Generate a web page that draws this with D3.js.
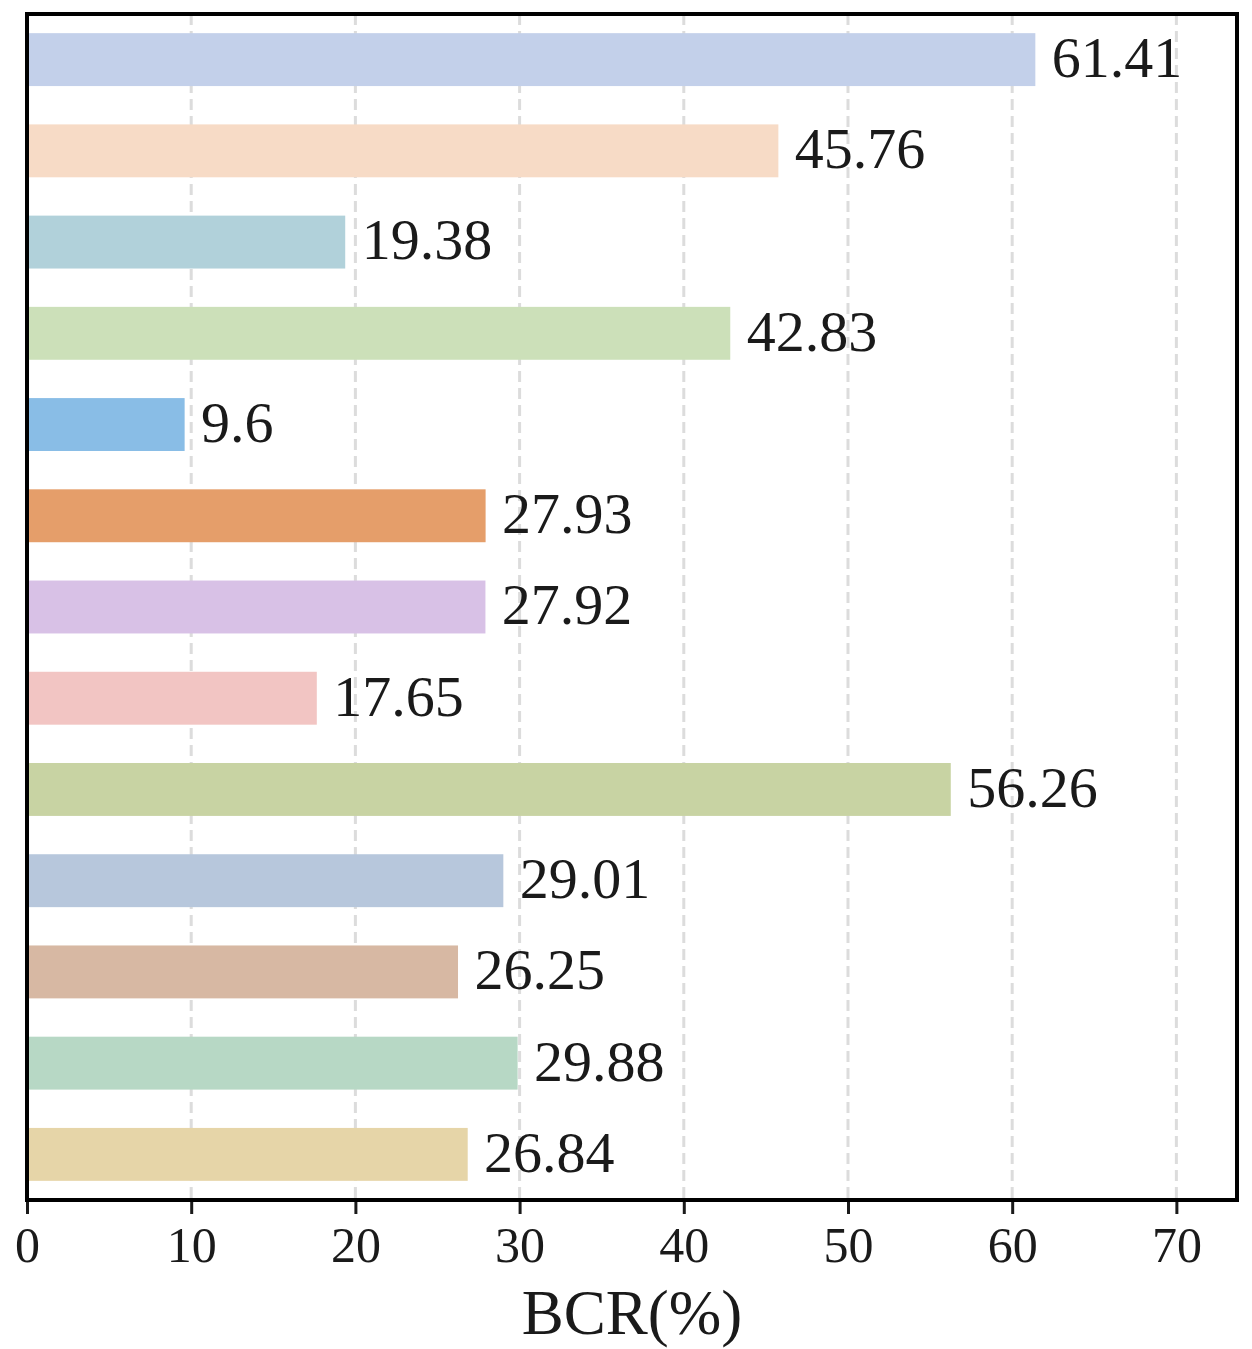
<!DOCTYPE html>
<html>
<head>
<meta charset="utf-8">
<script src="https://cdn.jsdelivr.net/npm/d3@7"></script>
<style>
  body { margin: 0; background: #fff; }
  svg text { font-family: 'Liberation Serif', 'Times New Roman', serif; fill: #1a1a1a; }
</style>
</head>
<body>
<svg id="bar"></svg>
<script>
const categories = ['A', 'B', 'C', 'D', 'E', 'F', 'G', 'H', 'I', 'J', 'K', 'L', 'M'];
const values = [61.41, 45.76, 19.38, 42.83, 9.6, 27.93, 27.92, 17.65, 56.26, 29.01, 26.25, 29.88, 26.84];
const colors = ['#c3d0ea', '#f7dbc6', '#b1d1da', '#cce0b9', '#89bde6', '#e59e6a', '#d8c1e6',
  '#f2c5c3', '#c8d3a3', '#b7c7dc', '#d7b8a3', '#b7d8c5', '#e6d5a8'];
const xTicks = [0, 10, 20, 30, 40, 50, 60, 70];
const xLabel = 'BCR(%)';

const width = 1252;
const height = 1349;
const padding = { top: 14, right: 15, bottom: 149, left: 27 };

const svg = d3.select('#bar').attr('width', width).attr('height', height);

const data = categories.map((c, i) => ({ cat: c, value: values[i], color: colors[i] }));

const xScale = d3
  .scaleLinear()
  .domain([0, d3.max(values) * 1.2])
  .range([padding.left, width - padding.right]);

const yScale = d3
  .scaleBand()
  .domain(categories)
  .range([padding.top, height - padding.bottom])
  .paddingInner(0.42)
  .paddingOuter(0.21);

// grid
svg
  .append('g')
  .selectAll('line')
  .data(xTicks.filter(t => t > 0))
  .enter()
  .append('line')
  .attr('x1', d => xScale(d))
  .attr('x2', d => xScale(d))
  .attr('y1', padding.top)
  .attr('y2', height - padding.bottom)
  .attr('stroke', '#dcdcdc')
  .attr('stroke-width', 3)
  .attr('stroke-dasharray', '11,6');

svg
  .selectAll('.bar')
  .data(data)
  .enter()
  .append('rect')
  .classed('bar', true)
  .attr('x', xScale(0))
  .attr('y', d => yScale(d.cat))
  .attr('width', d => xScale(d.value) - xScale(0))
  .attr('height', yScale.bandwidth())
  .attr('fill', d => d.color);

svg
  .selectAll('.val')
  .data(data)
  .enter()
  .append('text')
  .classed('val', true)
  .attr('x', d => xScale(d.value + 1))
  .attr('y', d => yScale(d.cat) + yScale.bandwidth() / 2)
  .attr('dy', '0.3em')
  .style('font-size', '58px')
  .text(d => d.value);

const xAxis = d3.axisBottom(xScale).tickValues(xTicks).tickSize(14).tickPadding(12);

const gx = svg
  .append('g')
  .attr('transform', 'translate(0,' + (height - padding.bottom) + ')')
  .call(xAxis);
gx.select('.domain').remove();
gx.selectAll('.tick line').attr('stroke', '#1a1a1a').attr('stroke-width', 3);
gx.selectAll('.tick text').style('font-size', '50px').attr('fill', '#1a1a1a');

// frame
svg
  .append('rect')
  .attr('x', padding.left)
  .attr('y', padding.top)
  .attr('width', width - padding.left - padding.right)
  .attr('height', height - padding.top - padding.bottom)
  .attr('fill', 'none')
  .attr('stroke', '#000')
  .attr('stroke-width', 4);

svg
  .append('text')
  .attr('x', (padding.left + width - padding.right) / 2)
  .attr('y', 1334)
  .style('text-anchor', 'middle')
  .style('font-size', '63px')
  .text(xLabel);
</script>
</body>
</html>
